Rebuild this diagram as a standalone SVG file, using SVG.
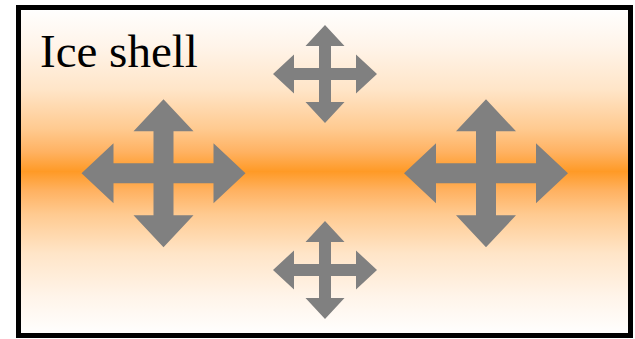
<svg xmlns="http://www.w3.org/2000/svg" xmlns:xlink="http://www.w3.org/1999/xlink" width="635" height="339" viewBox="0 0 635 339">
  <defs>
    <!-- warm band through the middle of the shell, fading to white at both faces -->
    <linearGradient id="shellHeat" x1="0" y1="0" x2="0" y2="1">
      <stop offset="0" stop-color="#ffffff"/>
      <stop offset="0.12" stop-color="#fff4e9"/>
      <stop offset="0.25" stop-color="#ffe5c8"/>
      <stop offset="0.37" stop-color="#ffca90"/>
      <stop offset="0.44" stop-color="#ffb262"/>
      <stop offset="0.5" stop-color="#ff9a26"/>
      <stop offset="0.56" stop-color="#ffb262"/>
      <stop offset="0.63" stop-color="#ffca90"/>
      <stop offset="0.75" stop-color="#ffe5c8"/>
      <stop offset="0.88" stop-color="#fff4e9"/>
      <stop offset="1" stop-color="#ffffff"/>
    </linearGradient>
    <!-- four-way expansion arrows, drawn around their own centre -->
    <path id="crossBig" d="M0,-74 L30,-42 L10,-42 L10,-10 L50,-10 L50,-30 L82,0 L50,30 L50,10 L10,10 L10,42 L30,42 L0,74 L-30,42 L-10,42 L-10,10 L-50,10 L-50,30 L-82,0 L-50,-30 L-50,-10 L-10,-10 L-10,-42 L-30,-42 Z"/>
    <path id="crossSmall" d="M0,-49 L19.5,-28 L6,-28 L6,-6 L31,-6 L31,-19.5 L52,0 L31,19.5 L31,6 L6,6 L6,28 L19.5,28 L0,49 L-19.5,28 L-6,28 L-6,6 L-31,6 L-31,19.5 L-52,0 L-31,-19.5 L-31,-6 L-6,-6 L-6,-28 L-19.5,-28 Z"/>
  </defs>
  <style>
    .shell { fill: url(#shellHeat); stroke: #000000; stroke-width: 5; }
    .arrow { fill: #808080; }
  </style>

  <rect width="635" height="339" fill="#ffffff"/>

  <g id="ice-shell">
    <rect class="shell" x="18.5" y="7.5" width="612" height="328"/>
    <text x="40" y="67" font-family="'Liberation Serif', 'Times New Roman', serif" font-size="47" fill="#000000">Ice shell</text>
  </g>

  <g id="expansion-left"><use class="arrow" xlink:href="#crossBig" href="#crossBig" transform="translate(163.5,173.3)"/></g>
  <g id="expansion-right"><use class="arrow" xlink:href="#crossBig" href="#crossBig" transform="translate(486,173.3)"/></g>
  <g id="expansion-top"><use class="arrow" xlink:href="#crossSmall" href="#crossSmall" transform="translate(325,74)"/></g>
  <g id="expansion-bottom"><use class="arrow" xlink:href="#crossSmall" href="#crossSmall" transform="translate(325,270)"/></g>
</svg>
